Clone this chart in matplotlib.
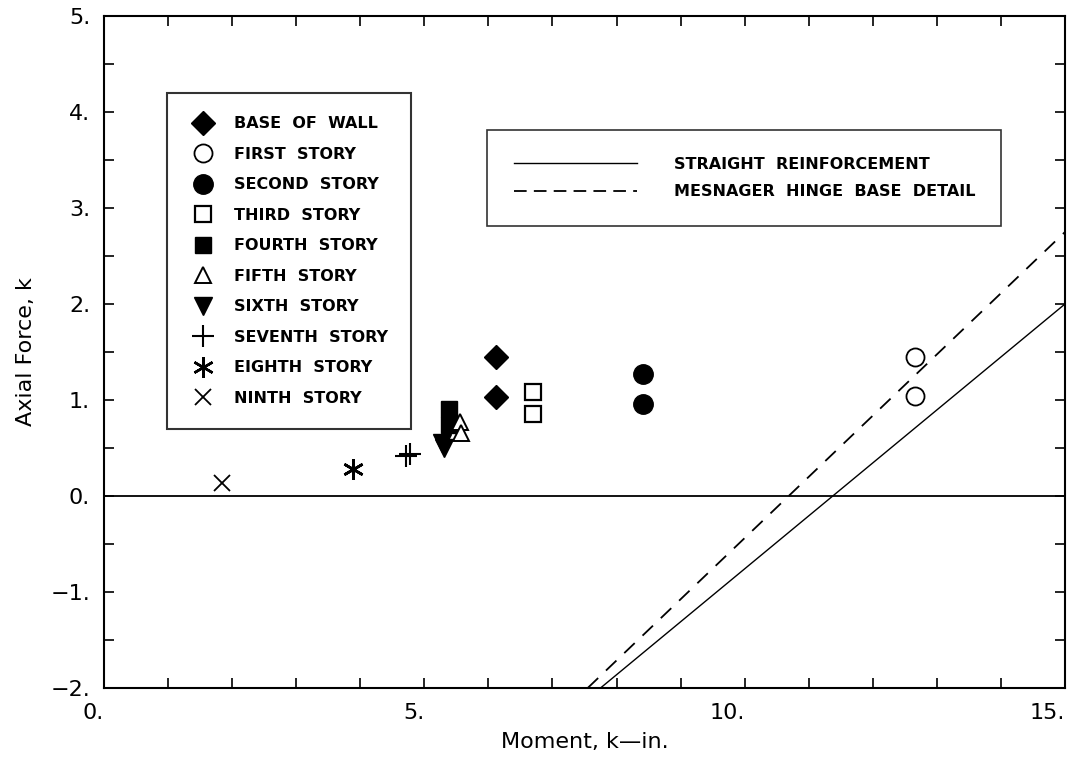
import matplotlib
matplotlib.use("Agg")
import matplotlib.pyplot as plt
from matplotlib.lines import Line2D
from matplotlib.ticker import MultipleLocator, FuncFormatter

# ---- data ----
stories = ["BASE  OF  WALL", "FIRST  STORY", "SECOND  STORY", "THIRD  STORY",
           "FOURTH  STORY", "FIFTH  STORY", "SIXTH  STORY", "SEVENTH  STORY",
           "EIGHTH  STORY", "NINTH  STORY"]
moment = [
    [6.12, 6.12],      # base of wall
    [12.66, 12.66],    # first story
    [8.42, 8.42],      # second story
    [6.70, 6.70],      # third story
    [5.39, 5.39],      # fourth story
    [5.56, 5.58],      # fifth story
    [5.28, 5.30],      # sixth story
    [4.72, 4.78],      # seventh story
    [3.89, 3.89],      # eighth story
    [1.84],            # ninth story
]
axial = [
    [1.45, 1.03],
    [1.45, 1.04],
    [1.27, 0.96],
    [1.08, 0.85],
    [0.91, 0.74],
    [0.77, 0.66],
    [0.55, 0.50],
    [0.42, 0.44],
    [0.28, 0.28],
    [0.14],
]
line_labels = ["STRAIGHT  REINFORCEMENT", "MESNAGER  HINGE  BASE  DETAIL"]

straight_x = [7.75, 15.0]
straight_y = [-2.0, 2.0]
mesnager_x = [7.55, 15.0]
mesnager_y = [-2.0, 2.75]

# ---- marker styles ----
styles = [
    dict(marker="D", ms=12, mfc="black", mec="black"),
    dict(marker="o", ms=13, mfc="white", mec="black", mew=1.3),
    dict(marker="o", ms=14, mfc="black", mec="black"),
    dict(marker="s", ms=11, mfc="white", mec="black", mew=1.6),
    dict(marker="s", ms=11, mfc="black", mec="black"),
    dict(marker="^", ms=12, mfc="white", mec="black", mew=1.4),
    dict(marker="v", ms=13, mfc="black", mec="black"),
    dict(marker="+", ms=16, mec="black", mew=1.5),
    dict(marker=(6, 2, 0), ms=15, mec="black", mew=1.8),
    dict(marker="x", ms=11, mec="black", mew=1.3),
]
dash = (0, (8, 6))

plt.rcParams["font.family"] = ["DejaVu Sans"]

fig = plt.figure(figsize=(10.68, 7.59), dpi=100)
ax = fig.add_axes([104 / 1068, 1 - 688 / 759, 961 / 1068, 672 / 759])

ax.axhline(0, color="black", lw=1.3, zorder=1)
ax.plot(straight_x, straight_y, color="black", lw=1.0)
ax.plot(mesnager_x, mesnager_y, color="black", lw=1.3, ls=dash)

for xs, ys, st in zip(moment, axial, styles):
    ax.plot(xs, ys, ls="none", color="black", **st, zorder=3)

ax.set_xlim(0, 15)
ax.set_ylim(-2, 5)
ax.xaxis.set_major_locator(MultipleLocator(5))
ax.xaxis.set_minor_locator(MultipleLocator(1))
ax.yaxis.set_major_locator(MultipleLocator(1))
ax.yaxis.set_minor_locator(MultipleLocator(0.5))
fmt = FuncFormatter(lambda v, p: f"{int(round(v))}.".replace("-", "\u2212"))
ax.xaxis.set_major_formatter(fmt)
ax.yaxis.set_major_formatter(fmt)
ax.tick_params(which="both", direction="in", top=True, right=True,
               length=7, width=1.2, labelsize=16)
ax.tick_params(axis="x", pad=11)
ax.tick_params(axis="y", pad=10)
for lbl in ax.get_xticklabels():
    lbl.set_horizontalalignment("right")
for s in ax.spines.values():
    s.set_linewidth(1.5)

ax.set_xlabel("Moment, k\u2014in.", fontsize=16, labelpad=6)
ax.set_ylabel("Axial Force, k", fontsize=16, labelpad=10)

# ---- legends ----
story_handles = [Line2D([], [], ls="none", color="black", **st) for st in styles]
leg1 = ax.legend(story_handles, stories, loc="upper left",
                 bbox_to_anchor=(0.066, 0.885), frameon=True, fancybox=False,
                 edgecolor="black", prop=dict(size=11.5, weight="bold"),
                 labelspacing=0.97, handletextpad=1.1, borderpad=1.45,
                 handlelength=1.6, borderaxespad=0)
leg1.get_frame().set_linewidth(1.5)
ax.add_artist(leg1)

line_handles = [Line2D([], [], color="black", lw=1.0),
                Line2D([], [], color="black", lw=1.3, ls=(0, (7, 4)))]
leg2 = ax.legend(line_handles, line_labels,
                 loc="upper left", bbox_to_anchor=(0.399, 0.83), frameon=True,
                 fancybox=False, edgecolor="black",
                 prop=dict(size=11.5, weight="bold"), labelspacing=0.8,
                 handlelength=7.7, handletextpad=2.3, borderpad=1.65,
                 borderaxespad=0)
leg2.get_frame().set_linewidth(1.2)

fig.savefig("out.png", dpi=100)
